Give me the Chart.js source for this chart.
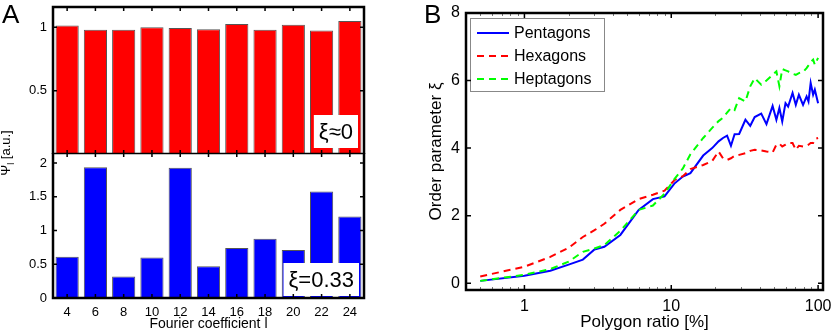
<!DOCTYPE html>
<html>
<head>
<meta charset="utf-8">
<script src="https://cdn.jsdelivr.net/npm/chart.js@4.4.1/dist/chart.umd.min.js"></script>
<style>
  body { margin: 0; background: #fff; }
  #wrap { position: relative; width: 831px; height: 331px; overflow: hidden; font-family: "Liberation Sans", Arial, sans-serif; }
  canvas { position: absolute; }
  .panel { position: absolute; font-size: 26px; line-height: 26px; color: #000; }
  #psiTitle { position: absolute; left: 7px; top: 153px; font-size: 13px; white-space: nowrap; transform: translate(-50%, -50%) rotate(-90deg); }
  #psiTitle sub { font-size: 9px; }
</style>
</head>
<body>
<div id="wrap">
  <canvas id="chartTop" width="372" height="154" style="left:0;top:0"></canvas>
  <canvas id="chartBottom" width="372" height="178" style="left:0;top:153px"></canvas>
  <canvas id="chartB" width="411" height="331" style="left:420px;top:0"></canvas>
  <div class="panel" style="left:2px;top:1px">A</div>
  <div class="panel" style="left:424px;top:1px">B</div>
  <div id="psiTitle">Ψ<sub>l</sub> [a.u.]</div>
</div>
<script>
// panel A
const fourierCoeff = ['4', '6', '8', '10', '12', '14', '16', '18', '20', '22', '24'];
const psiDisordered = [1.015, 0.98, 0.98, 1.0, 0.995, 0.985, 1.025, 0.98, 1.02, 0.975, 1.05];
const psiOrdered = [0.61, 1.94, 0.32, 0.6, 1.93, 0.47, 0.74, 0.88, 0.71, 1.58, 1.21];
const psiTopTicks = [0.5, 1];
const psiBottomTicks = [0, 0.5, 1, 1.5, 2];

// panel B
const polygonRatio = [0.5, 1, 1.5, 2, 2.5, 3, 3.5, 4.5, 6, 7.5, 9, 10.5, 12, 13.5, 16.5, 19, 21, 22.5, 24, 25.5,
  27, 29, 32, 34.5, 37, 41, 44.5, 49, 52, 54.5, 57, 60, 62.5, 67, 70.5, 74, 79, 83.5, 86, 89, 92.5, 95, 100];
const pentagons = [0.07, 0.22, 0.37, 0.55, 0.7, 1.0, 1.08, 1.43, 2.17, 2.49, 2.57, 2.95, 3.16, 3.26, 3.78, 4.0, 4.2, 4.3, 4.37, 4.07,
  4.41, 4.42, 4.84, 4.66, 4.92, 5.02, 4.71, 5.25, 4.84, 5.19, 4.79, 5.33, 5.23, 5.63, 5.28, 5.58, 5.28, 5.53, 5.38, 5.93, 5.58, 5.73, 5.33];
const hexagons = [0.2, 0.49, 0.78, 1.05, 1.37, 1.57, 1.76, 2.17, 2.49, 2.62, 2.74, 3.05, 3.17, 3.38, 3.5, 3.62, 3.9, 3.7, 3.65, 3.7,
  3.77, 3.8, 3.85, 3.92, 3.95, 3.93, 3.9, 3.87, 4.1, 4.13, 4.05, 4.1, 4.15, 4.15, 3.95, 4.07, 4.05, 4.07, 4.1, 4.15, 4.15, 4.27, 4.3];
const heptagons = [0.07, 0.25, 0.42, 0.64, 0.93, 1.03, 1.13, 1.55, 2.17, 2.3, 2.65, 3.08, 3.4, 3.82, 4.3, 4.6, 4.8, 4.9, 5.05, 5.19,
  5.13, 5.48, 5.38, 5.83, 6.07, 5.88, 6.0, 6.17, 6.27, 5.83, 6.34, 6.3, 6.27, 6.2, 6.17, 6.22, 6.25, 6.37, 6.45, 6.55, 6.62, 6.47, 6.67];
const orderTicks = [0, 2, 4, 6, 8];
const ratioTicks = [1, 10, 100];
const ratioMinor = [0.5, 0.6, 0.7, 0.8, 0.9, 2, 3, 4, 5, 6, 7, 8, 9, 20, 30, 40, 50, 60, 70, 80, 90];

const FONT = '"Liberation Sans", Arial, sans-serif';
Chart.defaults.font.family = FONT;
Chart.defaults.color = '#000';

// fixed axis sizes, no extra room for overhanging labels
const fixWidth = w => s => { s.width = w; s.paddingTop = 0; s.paddingBottom = 0; };
const fixHeight = h => s => { s.height = h; s.paddingLeft = 0; s.paddingRight = 0; };

// box, ticks pointing inwards, notes and legend drawn over the data
const framePlugin = {
    id: 'frame',
    afterDatasetsDraw(chart, args, opts) {
        const { ctx, chartArea: a, scales } = chart;
        ctx.save();

        if (opts.note) {
            ctx.font = '22px ' + FONT;
            const w = ctx.measureText(opts.note).width + 10;
            const h = 33;
            const x = a.right - opts.noteRight - w;
            const y = a.bottom - opts.noteBottom - h;
            ctx.fillStyle = '#fff';
            ctx.fillRect(x, y, w, h);
            ctx.fillStyle = '#000';
            ctx.textAlign = 'center';
            ctx.textBaseline = 'middle';
            ctx.fillText(opts.note, x + w / 2, y + h / 2 + 1);
        }

        if (opts.legend) {
            const lx = a.left + 4, ly = a.top + 5, lw = 134, lh = 73;
            ctx.fillStyle = '#fff';
            ctx.fillRect(lx, ly, lw, lh);
            ctx.strokeStyle = '#888';
            ctx.lineWidth = 1;
            ctx.strokeRect(lx + 0.5, ly + 0.5, lw, lh);
            ctx.font = '16px ' + FONT;
            ctx.textAlign = 'left';
            ctx.textBaseline = 'middle';
            chart.data.datasets.forEach((ds, i) => {
                const yy = ly + 15 + i * 23;
                ctx.strokeStyle = ds.borderColor;
                ctx.lineWidth = ds.borderWidth;
                ctx.setLineDash(ds.borderDash || []);
                ctx.beginPath();
                ctx.moveTo(lx + 7, yy);
                ctx.lineTo(lx + 39, yy);
                ctx.stroke();
                ctx.setLineDash([]);
                ctx.fillStyle = '#000';
                ctx.fillText(ds.label, lx + 44, yy + 1);
            });
        }

        const len = opts.tickLen || 4;
        ctx.strokeStyle = '#000';
        ctx.lineWidth = 1.5;
        ctx.beginPath();
        (opts.xTicks || []).forEach(v => {
            const px = scales.x.getPixelForValue(v);
            ctx.moveTo(px, a.top); ctx.lineTo(px, a.top + len);
            ctx.moveTo(px, a.bottom); ctx.lineTo(px, a.bottom - len);
        });
        (opts.yTicks || []).forEach(v => {
            const py = scales.y.getPixelForValue(v);
            ctx.moveTo(a.left, py); ctx.lineTo(a.left + len, py);
            ctx.moveTo(a.right, py); ctx.lineTo(a.right - len, py);
        });
        ctx.stroke();

        if (opts.xMinor) {
            ctx.strokeStyle = '#777';
            ctx.lineWidth = 1;
            ctx.beginPath();
            opts.xMinor.forEach(v => {
                const px = Math.round(scales.x.getPixelForValue(v)) + 0.5;
                ctx.moveTo(px, a.top); ctx.lineTo(px, a.top + 3);
                ctx.moveTo(px, a.bottom); ctx.lineTo(px, a.bottom - 3);
            });
            ctx.stroke();
        }

        ctx.strokeStyle = '#000';
        ctx.lineWidth = 2.5;
        ctx.strokeRect(a.left, a.top, a.right - a.left, a.bottom - a.top);
        ctx.restore();
    }
};

const barOptions = (yMax, yTicks, showX, frame) => ({
    responsive: false,
    animation: false,
    layout: { padding: showX ? { top: 0, right: 8, left: 0, bottom: 0 } : { top: 7, right: 8, left: 0, bottom: 0 } },
    plugins: { legend: { display: false }, tooltip: { enabled: false }, frame: frame },
    scales: {
        x: {
            display: showX,
            offset: true,
            grid: { display: false, drawTicks: false },
            border: { display: false },
            ticks: { autoSkip: false, maxRotation: 0, padding: 7, font: { size: 13 } },
            title: { display: showX, text: 'Fourier coefficient l', font: { size: 14, lineHeight: 1 }, padding: 0 },
            afterFit: fixHeight(showX ? 33 : 0)
        },
        y: {
            min: 0,
            max: yMax,
            grid: { display: false, drawTicks: false },
            border: { display: false },
            ticks: { padding: 6, font: { size: 13 }, callback: v => String(v) },
            afterBuildTicks: s => { s.ticks = yTicks.map(v => ({ value: v })); },
            afterFit: fixWidth(53)
        }
    }
});

const catIndex = fourierCoeff.map((c, i) => i);

new Chart(document.getElementById('chartTop'), {
    type: 'bar',
    data: {
        labels: fourierCoeff,
        datasets: [{
            data: psiDisordered,
            backgroundColor: '#ff0000',
            borderColor: '#555',
            borderWidth: 1,
            categoryPercentage: 1,
            barPercentage: 0.82
        }]
    },
    options: barOptions(1.16, psiTopTicks, false, { note: 'ξ≈0', noteRight: 6, noteBottom: 6, xTicks: catIndex, yTicks: psiTopTicks }),
    plugins: [framePlugin]
});

new Chart(document.getElementById('chartBottom'), {
    type: 'bar',
    data: {
        labels: fourierCoeff,
        datasets: [{
            data: psiOrdered,
            backgroundColor: '#0000ff',
            borderColor: '#555',
            borderWidth: 1,
            categoryPercentage: 1,
            barPercentage: 0.82
        }]
    },
    options: barOptions(2.15, psiBottomTicks, true, { note: 'ξ=0.33', noteRight: 5, noteBottom: 2, xTicks: catIndex, yTicks: psiBottomTicks }),
    plugins: [framePlugin]
});

const toPoints = ys => polygonRatio.map((x, i) => ({ x: x, y: ys[i] }));

new Chart(document.getElementById('chartB'), {
    type: 'line',
    data: {
        datasets: [
            { label: 'Pentagons', data: toPoints(pentagons), borderColor: '#0000ff', borderWidth: 2, pointRadius: 0, order: 2 },
            { label: 'Hexagons', data: toPoints(hexagons), borderColor: '#ff0000', borderWidth: 2, borderDash: [7, 5], pointRadius: 0, order: 1 },
            { label: 'Heptagons', data: toPoints(heptagons), borderColor: '#00ff00', borderWidth: 2, borderDash: [7, 5], pointRadius: 0, order: 0 }
        ]
    },
    options: {
        responsive: false,
        animation: false,
        layout: { padding: { top: 13, right: 8, left: 0, bottom: 0 } },
        plugins: {
            legend: { display: false },
            tooltip: { enabled: false },
            frame: { legend: true, xTicks: ratioTicks, yTicks: orderTicks, xMinor: ratioMinor, tickLen: 5 }
        },
        scales: {
            x: {
                type: 'logarithmic',
                min: 0.4,
                max: 108,
                grid: { display: false, drawTicks: false },
                border: { display: false },
                ticks: { padding: 7, font: { size: 16 }, callback: v => String(v) },
                afterBuildTicks: s => { s.ticks = ratioTicks.map(v => ({ value: v })); },
                title: { display: true, text: 'Polygon ratio [%]', font: { size: 17, lineHeight: 1 }, padding: 0 },
                afterFit: fixHeight(41)
            },
            y: {
                min: -0.2,
                max: 8,
                grid: { display: false, drawTicks: false },
                border: { display: false },
                ticks: { padding: 6, font: { size: 16 }, callback: v => String(v) },
                afterBuildTicks: s => { s.ticks = orderTicks.map(v => ({ value: v })); },
                title: { display: true, text: 'Order parameter ξ', font: { size: 17, lineHeight: 1 }, padding: { top: 8, bottom: 0 } },
                afterFit: fixWidth(46)
            }
        }
    },
    plugins: [framePlugin]
});
</script>
</body>
</html>
